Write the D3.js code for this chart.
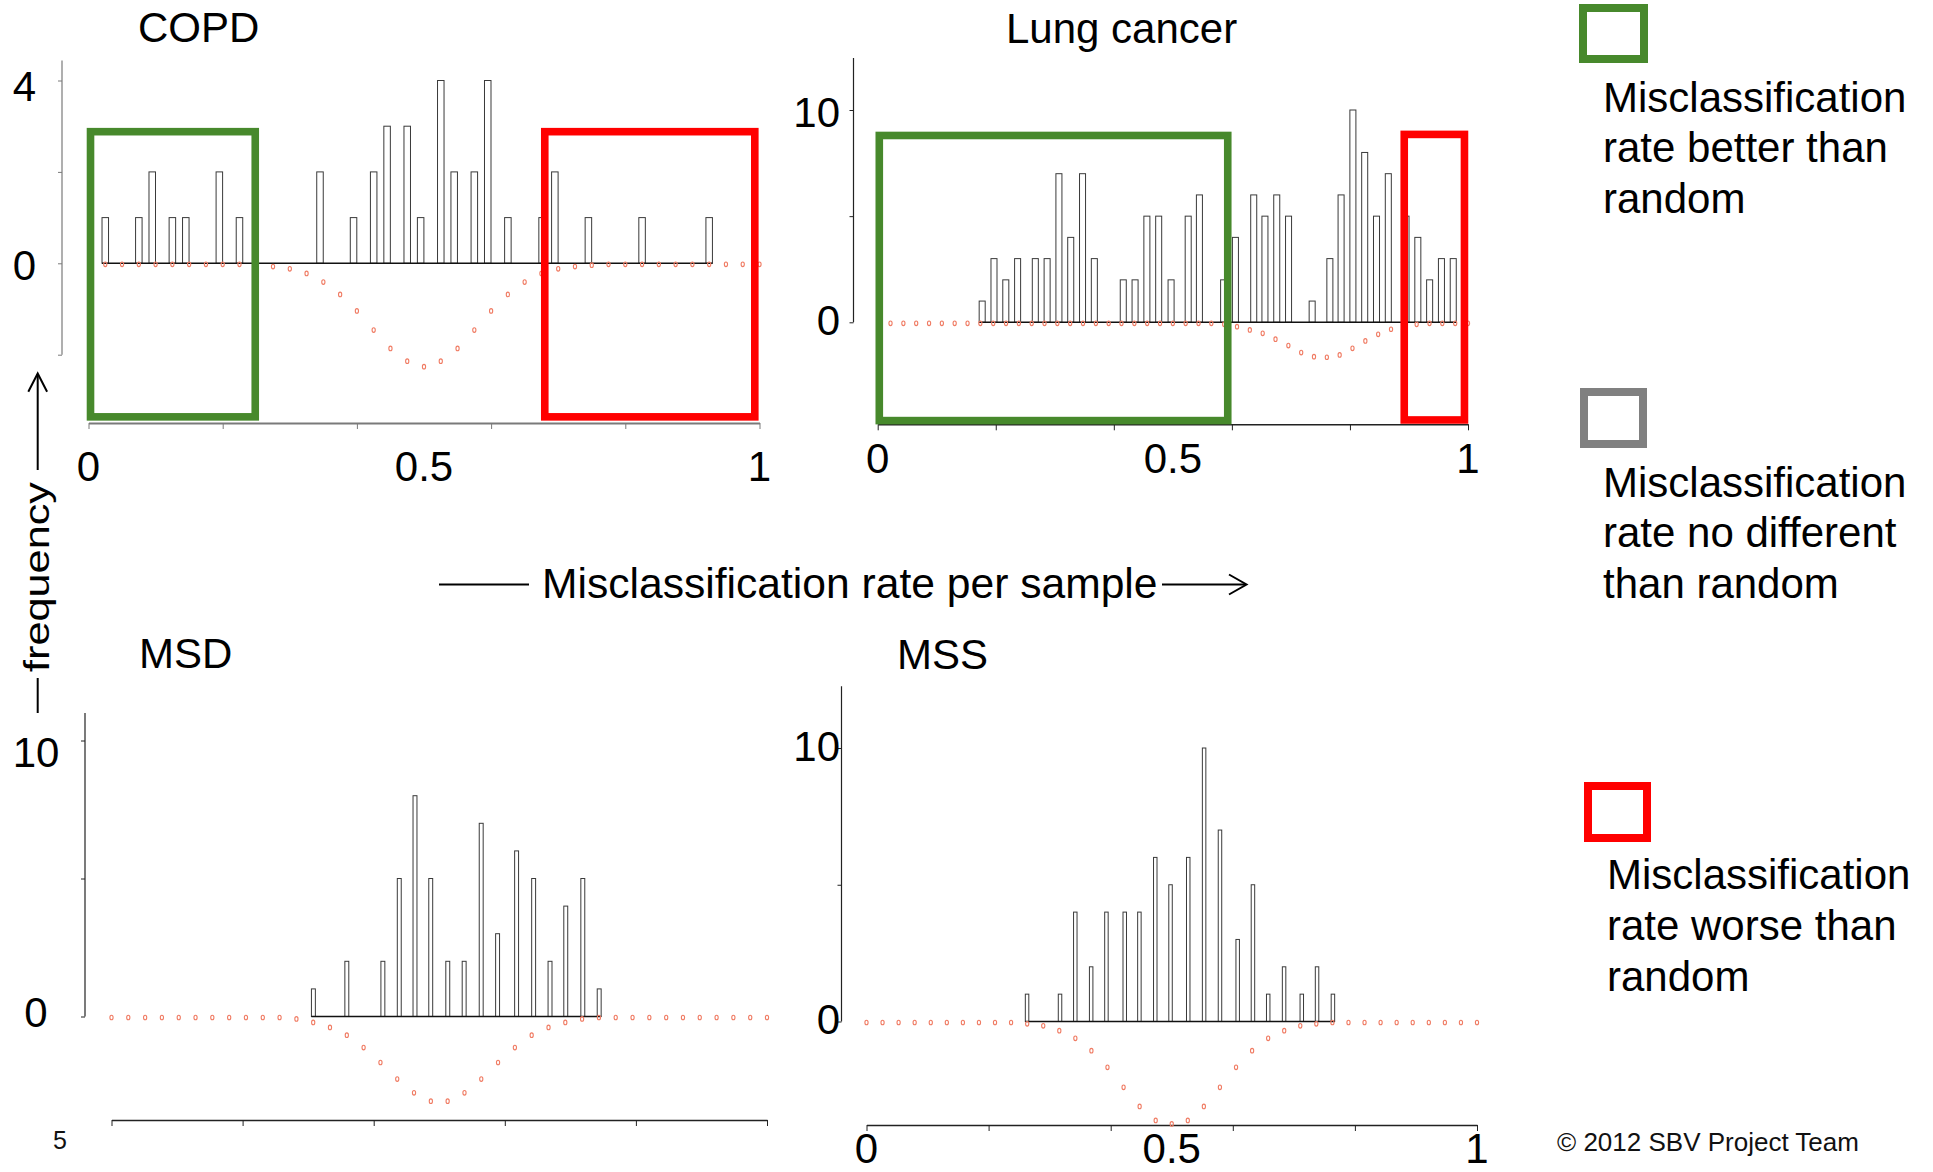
<!DOCTYPE html>
<html>
<head>
<meta charset="utf-8">
<script src="https://cdn.jsdelivr.net/npm/d3@7"></script>
<style>
  html, body { margin: 0; padding: 0; background: #ffffff; }
  svg { display: block; font-family: "Liberation Sans", Arial, Helvetica, sans-serif; }
</style>
</head>
<body>
<svg id="chart" width="1933" height="1172"></svg>
<script>
// ---------- observed misclassification rates (bar positions) and their frequencies ----------
const copdRates  = [0.025, 0.075, 0.095, 0.125, 0.145, 0.195, 0.225, 0.345, 0.395, 0.425, 0.445, 0.475,
                    0.495, 0.525, 0.545, 0.575, 0.595, 0.625, 0.676, 0.695, 0.745, 0.825, 0.925];
const copdCounts = [1, 1, 2, 1, 1, 2, 1, 2, 1, 2, 3, 3, 1, 4, 2, 2, 4, 1, 1, 2, 1, 1, 1];

const lungRates  = [0.177, 0.197, 0.217, 0.237, 0.267, 0.287, 0.307, 0.327, 0.347, 0.367, 0.416, 0.436,
                    0.456, 0.476, 0.497, 0.526, 0.545, 0.586, 0.606, 0.637, 0.656, 0.676, 0.696, 0.736,
                    0.766, 0.785, 0.805, 0.825, 0.845, 0.865, 0.895, 0.915, 0.935, 0.955, 0.975];
const lungCounts = [1, 3, 2, 3, 3, 3, 7, 4, 7, 3, 2, 2, 5, 5, 2, 5, 6, 2, 4, 6, 5, 6, 5, 1,
                    3, 6, 10, 8, 5, 7, 5, 4, 2, 3, 3];

const msdRates   = [0.308, 0.359, 0.414, 0.439, 0.463, 0.487, 0.513, 0.538, 0.564, 0.589, 0.618, 0.644,
                    0.669, 0.693, 0.719, 0.744];
const msdCounts  = [1, 2, 2, 5, 8, 5, 2, 2, 7, 3, 6, 5, 2, 4, 5, 1];

const mssRates   = [0.263, 0.317, 0.342, 0.368, 0.393, 0.423, 0.447, 0.473, 0.498, 0.527, 0.553, 0.579,
                    0.608, 0.633, 0.658, 0.684, 0.713, 0.738, 0.764];
const mssCounts  = [1, 1, 4, 2, 4, 4, 4, 6, 5, 6, 10, 7, 3, 5, 1, 2, 1, 2, 1];

// ---------- random-classifier reference distribution (drawn below zero) ----------
const copdNullRates  = [0.025, 0.05, 0.075, 0.1, 0.125, 0.15, 0.175, 0.2, 0.225, 0.25, 0.275, 0.3, 0.325, 0.35,
                        0.375, 0.4, 0.425, 0.45, 0.475, 0.5, 0.525, 0.55, 0.575, 0.6, 0.625, 0.65, 0.675, 0.7,
                        0.725, 0.75, 0.775, 0.8, 0.825, 0.85, 0.875, 0.9, 0.925, 0.95, 0.975, 1.0];
const copdNullValues = [0, 0, 0, 0, 0, 0, 0, 0, 0, -0.02, -0.05, -0.10, -0.20, -0.39, -0.66, -1.02, -1.44, -1.84,
                        -2.12, -2.24, -2.12, -1.84, -1.44, -1.02, -0.66, -0.39, -0.20, -0.10, -0.05, -0.02,
                        0, 0, 0, 0, 0, 0, 0, 0, 0, 0];

const lungNullRates  = [0.0217, 0.0435, 0.0652, 0.0870, 0.1087, 0.1304, 0.1522, 0.1739, 0.1957, 0.2174, 0.2391,
                        0.2609, 0.2826, 0.3043, 0.3261, 0.3478, 0.3696, 0.3913, 0.4130, 0.4348, 0.4565, 0.4783,
                        0.5, 0.5217, 0.5435, 0.5652, 0.5870, 0.6087, 0.6304, 0.6522, 0.6739, 0.6957, 0.7174,
                        0.7391, 0.7609, 0.7826, 0.8043, 0.8261, 0.8478, 0.8696, 0.8913, 0.9130, 0.9348, 0.9565,
                        0.9783, 1.0];
const lungNullValues = [0, 0, 0, 0, 0, 0, 0, 0, 0, 0, 0, 0, 0, 0, 0, 0, 0, 0, 0, 0, 0, 0, 0, 0, 0, 0,
                        -0.05, -0.16, -0.31, -0.47, -0.75, -1.05, -1.38, -1.57, -1.60, -1.49, -1.18, -0.83,
                        -0.52, -0.28, -0.12, -0.05, 0, 0, 0, 0];

const msdNullRates   = [0, 0.0256, 0.0513, 0.0769, 0.1026, 0.1282, 0.1538, 0.1795, 0.2051, 0.2308, 0.2564,
                        0.2821, 0.3077, 0.3333, 0.3590, 0.3846, 0.4103, 0.4359, 0.4615, 0.4872, 0.5128, 0.5385,
                        0.5641, 0.5897, 0.6154, 0.6410, 0.6667, 0.6923, 0.7179, 0.7436, 0.7692, 0.7949, 0.8205,
                        0.8462, 0.8718, 0.8974, 0.9231, 0.9487, 0.9744, 1.0];
const msdNullValues  = [0, 0, 0, 0, 0, 0, 0, 0, 0, 0, 0, -0.05, -0.18, -0.36, -0.64, -1.09, -1.63, -2.23,
                        -2.73, -3.03, -3.03, -2.73, -2.23, -1.63, -1.09, -0.64, -0.36, -0.18, -0.05,
                        0, 0, 0, 0, 0, 0, 0, 0, 0, 0, 0];

const mssNullRates   = [0, 0.0263, 0.0526, 0.0789, 0.1053, 0.1316, 0.1579, 0.1842, 0.2105, 0.2368, 0.2632,
                        0.2895, 0.3158, 0.3421, 0.3684, 0.3947, 0.4211, 0.4474, 0.4737, 0.5, 0.5263, 0.5526,
                        0.5789, 0.6053, 0.6316, 0.6579, 0.6842, 0.7105, 0.7368, 0.7632, 0.7895, 0.8158,
                        0.8421, 0.8684, 0.8947, 0.9211, 0.9474, 0.9737, 1.0];
const mssNullValues  = [0, 0, 0, 0, 0, 0, 0, 0, 0, 0, -0.05, -0.12, -0.30, -0.58, -1.03, -1.64, -2.37, -3.07,
                        -3.58, -3.71, -3.58, -3.07, -2.37, -1.64, -1.03, -0.58, -0.30, -0.12, -0.05,
                        0, 0, 0, 0, 0, 0, 0, 0, 0, 0];

// ---------- axis ticks and labels ----------
const xTickValues    = [0, 0.2, 0.4, 0.6, 0.8, 1];
const xTickLabels    = [0, 0.5, 1];
const copdYTicks     = [-2, 0, 2, 4];
const copdYLabels    = [0, 4];
const otherYTicks    = [0, 5, 10];
const otherYLabels   = [0, 10];

// ---------- highlighted rate regions: [from, to] in misclassification rate ----------
const copdBetterRange = [0.003, 0.2485];
const copdWorseRange  = [0.680, 0.993];
const lungBetterRange = [0.0027, 0.593];
const lungWorseRange  = [0.892, 0.994];

const legendLabels = [
  ["Misclassification", "rate better than", "random"],
  ["Misclassification", "rate no different", "than random"],
  ["Misclassification", "rate worse than", "random"]
];

// ---------- styling ----------
const GREEN = "#47892c", RED = "#ff0000", GREY = "#808080", NULLCOL = "#f07c64";
const FONT = 42;

const svg = d3.select("#chart");

const panels = [
  {
    title: "COPD", titlePos: [138, 42],
    rates: copdRates, counts: copdCounts, nullRates: copdNullRates, nullValues: copdNullValues,
    xRange: [88.5, 759.5], zeroY: 263.3, unitY: 45.7, barW: 0.0097,
    yAxisX: 62, yAxisSpan: [-2, 4.44], yTicks: copdYTicks, yLabels: copdYLabels,
    yLabelX: 36, yLabelAnchor: "end", yLabelDy: { 0: 17, 4: 20 },
    xAxisY: 423, xLabelY: 481, axisColor: "#7a7a7a", xAxisWidth: 2,
    boxes: [
      { range: copdBetterRange, top: 2.88, bottom: -3.36, color: GREEN },
      { range: copdWorseRange,  top: 2.88, bottom: -3.36, color: RED }
    ]
  },
  {
    title: "Lung cancer", titlePos: [1006, 43],
    rates: lungRates, counts: lungCounts, nullRates: lungNullRates, nullValues: lungNullValues,
    xRange: [877.7, 1468], zeroY: 322.3, unitY: 21.23, barW: 0.0102,
    yAxisX: 853.5, yAxisSpan: [0, 12.45], yTicks: otherYTicks, yLabels: otherYLabels,
    yLabelX: 840, yLabelAnchor: "end", yLabelDy: { 0: 13, 10: 17 },
    xAxisY: 424.3, xLabelY: 473, axisColor: "#222", xAxisWidth: 1.5,
    boxes: [
      { range: lungBetterRange, top: 8.80, bottom: -4.63, color: GREEN },
      { range: lungWorseRange,  top: 8.85, bottom: -4.60, color: RED }
    ]
  },
  {
    title: "MSD", titlePos: [139, 668],
    rates: msdRates, counts: msdCounts, nullRates: msdNullRates, nullValues: msdNullValues,
    xRange: [111.5, 767], zeroY: 1016.5, unitY: 27.6, barW: 0.006,
    yAxisX: 85, yAxisSpan: [0, 11.0], yTicks: otherYTicks, yLabels: otherYLabels,
    yLabelX: 36, yLabelAnchor: "middle", yLabelDy: { 0: 10.5, 10: 26.5 },
    xAxisY: 1120, xLabelY: null, axisColor: "#222", xAxisWidth: 1.5,
    boxes: []
  },
  {
    title: "MSS", titlePos: [897, 669],
    rates: mssRates, counts: mssCounts, nullRates: mssNullRates, nullValues: mssNullValues,
    xRange: [866.5, 1477], zeroY: 1021.5, unitY: 27.35, barW: 0.0057,
    yAxisX: 841.5, yAxisSpan: [0, 12.26], yTicks: otherYTicks, yLabels: otherYLabels,
    yLabelX: 840, yLabelAnchor: "end", yLabelDy: { 0: 12, 10: 13 },
    xAxisY: 1125, xLabelY: 1163, axisColor: "#222", xAxisWidth: 1.5,
    boxes: []
  }
];

function drawPanel(p) {
  const x = d3.scaleLinear().domain([0, 1]).range(p.xRange);
  const y = d3.scaleLinear().domain([0, 1]).range([p.zeroY, p.zeroY - p.unitY]);
  const g = svg.append("g").attr("class", "panel");

  // title
  g.append("text")
    .attr("x", p.titlePos[0]).attr("y", p.titlePos[1])
    .attr("font-size", FONT).attr("fill", "#000")
    .text(p.title);

  // y axis: ticks from d3, line spanning the plotted range
  const yAxis = d3.axisLeft(y).tickValues(p.yTicks).tickSize(4).tickSizeOuter(0).tickFormat("");
  const gy = g.append("g").attr("transform", `translate(${p.yAxisX},0)`).call(yAxis);
  gy.select(".domain").remove();
  gy.selectAll(".tick line").attr("stroke", p.axisColor).attr("stroke-width", 1);
  gy.append("line")
    .attr("x1", 0).attr("x2", 0)
    .attr("y1", y(p.yAxisSpan[1])).attr("y2", y(p.yAxisSpan[0]))
    .attr("stroke", p.axisColor).attr("stroke-width", 1.2);

  g.selectAll(null).data(p.yLabels).join("text")
    .attr("x", p.yLabelX)
    .attr("y", d => y(d) + p.yLabelDy[d])
    .attr("text-anchor", p.yLabelAnchor)
    .attr("font-size", FONT).attr("fill", "#000")
    .text(d => d);

  // x axis
  const xAxis = d3.axisBottom(x).tickValues(xTickValues).tickSize(6).tickSizeOuter(0).tickFormat("");
  const gx = g.append("g").attr("transform", `translate(0,${p.xAxisY})`).call(xAxis);
  gx.select(".domain").attr("stroke", p.axisColor).attr("stroke-width", p.xAxisWidth);
  gx.selectAll(".tick line").attr("stroke", p.axisColor).attr("stroke-width", 1);

  if (p.xLabelY !== null) {
    g.selectAll(null).data(xTickLabels).join("text")
      .attr("x", d => x(d))
      .attr("y", p.xLabelY)
      .attr("text-anchor", "middle")
      .attr("font-size", FONT).attr("fill", "#000")
      .text(d => d);
  }

  // frequency bars
  const bars = p.rates.map((r, i) => ({ rate: r, count: p.counts[i] }));
  g.selectAll(null).data(bars).join("rect")
    .attr("x", d => x(d.rate - p.barW / 2))
    .attr("width", d => x(d.rate + p.barW / 2) - x(d.rate - p.barW / 2))
    .attr("y", d => y(d.count))
    .attr("height", d => y(0) - y(d.count))
    .attr("fill", "#fff")
    .attr("stroke", "#3a3a3a").attr("stroke-width", 1);

  // zero baseline under the bars
  g.append("line")
    .attr("x1", x(d3.min(p.rates) - p.barW / 2))
    .attr("x2", x(d3.max(p.rates) + p.barW / 2))
    .attr("y1", y(0)).attr("y2", y(0))
    .attr("stroke", "#111").attr("stroke-width", 1.4);

  // reference distribution, mirrored below zero
  const nulls = p.nullRates.map((r, i) => ({ rate: r, value: p.nullValues[i] }));
  g.selectAll(null).data(nulls).join("ellipse")
    .attr("cx", d => x(d.rate))
    .attr("cy", d => y(d.value) + 1)
    .attr("rx", 1.6).attr("ry", 2.3)
    .attr("fill", "none")
    .attr("stroke", NULLCOL).attr("stroke-width", 1.1);

  // highlighted regions
  g.selectAll(null).data(p.boxes).join("rect")
    .attr("x", d => x(d.range[0]))
    .attr("width", d => x(d.range[1]) - x(d.range[0]))
    .attr("y", d => y(d.top))
    .attr("height", d => y(d.bottom) - y(d.top))
    .attr("fill", "none")
    .attr("stroke", d => d.color)
    .attr("stroke-width", 7.6);
}

panels.forEach(drawPanel);

// shared axis titles
const axisTitles = svg.append("g").attr("stroke", "#000").attr("stroke-width", 2).attr("fill", "none");
// horizontal: "—— Misclassification rate per sample ——>"
axisTitles.append("line").attr("x1", 439).attr("x2", 529).attr("y1", 584.5).attr("y2", 584.5);
axisTitles.append("line").attr("x1", 1162).attr("x2", 1246).attr("y1", 584.5).attr("y2", 584.5);
axisTitles.append("path").attr("d", "M1229,574.5L1246.5,584.5L1229,594.5");
svg.append("text")
  .attr("x", 542).attr("y", 598)
  .attr("font-size", 42.6).attr("fill", "#000")
  .text("Misclassification rate per sample");

// vertical: "— frequency —>"
axisTitles.append("line").attr("x1", 37.7).attr("x2", 37.7).attr("y1", 678).attr("y2", 713);
axisTitles.append("line").attr("x1", 37.7).attr("x2", 37.7).attr("y1", 374).attr("y2", 470);
axisTitles.append("path").attr("d", "M28.3,391.7L37.7,373.5L47.1,391.7");
svg.append("text")
  .attr("transform", "translate(49,577) rotate(-90)")
  .attr("text-anchor", "middle")
  .attr("font-size", 35)
  .attr("textLength", 190).attr("lengthAdjust", "spacingAndGlyphs")
  .attr("fill", "#000")
  .text("frequency");

// legend
const legendItems = [
  { color: GREEN, box: [1583, 8, 61, 51],   textX: 1603, baselines: [112, 162, 213], lines: legendLabels[0] },
  { color: GREY,  box: [1584, 392, 59, 52], textX: 1603, baselines: [497, 547, 598], lines: legendLabels[1] },
  { color: RED,   box: [1588, 786, 59, 52], textX: 1607, baselines: [889, 940, 991], lines: legendLabels[2] }
];
const legend = svg.append("g");
legendItems.forEach(item => {
  legend.append("rect")
    .attr("x", item.box[0]).attr("y", item.box[1])
    .attr("width", item.box[2]).attr("height", item.box[3])
    .attr("fill", "none").attr("stroke", item.color).attr("stroke-width", 8);
  legend.selectAll(null).data(item.lines).join("text")
    .attr("x", item.textX)
    .attr("y", (d, i) => item.baselines[i])
    .attr("font-size", FONT).attr("fill", "#000")
    .text(d => d);
});

// footer
svg.append("text").attr("x", 1557).attr("y", 1151)
  .attr("font-size", 26).attr("fill", "#111")
  .text("\u00A9 2012 SBV Project Team");
svg.append("text").attr("x", 53).attr("y", 1149)
  .attr("font-size", 25).attr("fill", "#111")
  .text("5");
</script>
</body>
</html>
